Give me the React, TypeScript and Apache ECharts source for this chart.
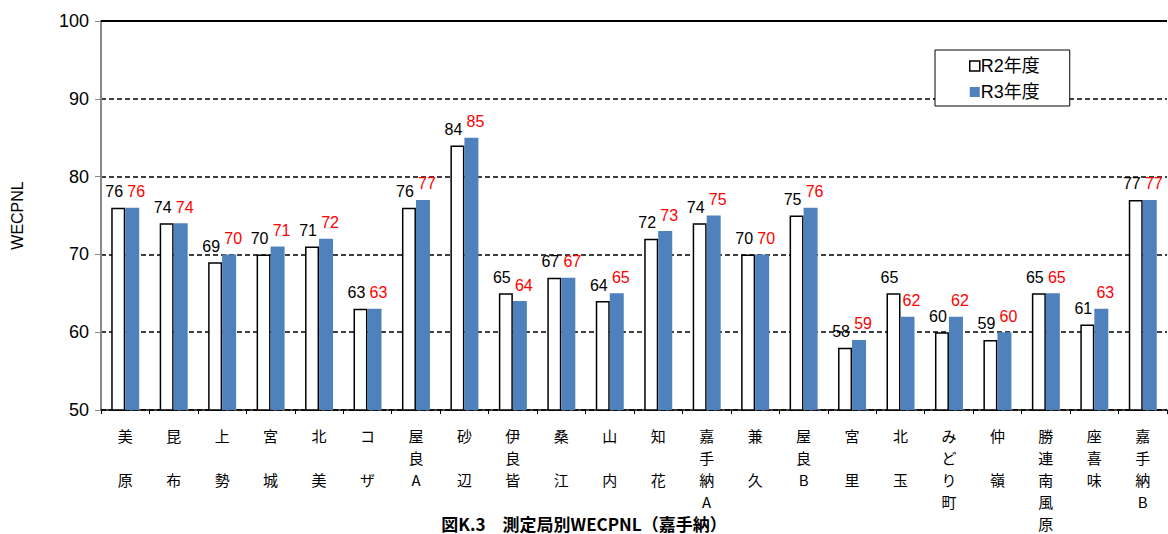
import React, { useEffect, useRef } from "react";
import * as echarts from "echarts";

const categories = [
  "美\n\n原", "昆\n\n布", "上\n\n勢", "宮\n\n城", "北\n\n美", "コ\n\nザ",
  "屋\n良\nA", "砂\n\n辺", "伊\n良\n皆", "桑\n\n江", "山\n\n内", "知\n\n花",
  "嘉\n手\n納\nA", "兼\n\n久", "屋\n良\nB", "宮\n\n里", "北\n\n玉",
  "み\nど\nり\n町", "仲\n\n嶺", "勝\n連\n南\n風\n原", "座\n喜\n味", "嘉\n手\n納\nB",
];
const r2Values = [76, 74, 69, 70, 71, 63, 76, 84, 65, 67, 64, 72, 74, 70, 75, 58, 65, 60, 59, 65, 61, 77];
const r3Values = [76, 74, 70, 71, 72, 63, 77, 85, 64, 67, 65, 73, 75, 70, 76, 59, 62, 62, 60, 65, 63, 77];
const yTicks = { min: 50, max: 100, interval: 10 };
const seriesNames = ["R2年度", "R3年度"];
const titleText = "図K.3　測定局別WECPNL（嘉手納）";
const yName = "WECPNL";

const FONT = "Liberation Sans, Arial, Noto Sans CJK JP, sans-serif";

export default function App() {
  const ref = useRef<HTMLDivElement>(null);
  useEffect(() => {
    if (!ref.current) return;
    const chart = echarts.init(ref.current, null, { renderer: "svg" });
    chart.setOption({
      animation: false,
      backgroundColor: "#fff",
      textStyle: { fontFamily: FONT },
      grid: { left: 101, right: 1, top: 21, bottom: 123, containLabel: false },
      legend: {
        orient: "vertical",
        left: 935,
        top: 50,
        width: 151,
        padding: [7, 30, 5, 34],
        itemGap: 8,
        itemWidth: 10,
        itemHeight: 10,
        borderColor: "#000",
        borderWidth: 1,
        backgroundColor: "#fff",
        textStyle: { fontSize: 18, color: "#000", fontFamily: FONT, padding: [0, 0, 0, -4] },
        data: [
          { name: seriesNames[0], icon: "rect", itemStyle: { color: "#fff", borderColor: "#000", borderWidth: 1.5 } },
          { name: seriesNames[1], icon: "rect" },
        ],
      },
      xAxis: {
        type: "category",
        data: categories,
        axisLine: { lineStyle: { color: "#000", width: 1.5 } },
        axisTick: { show: true, alignWithLabel: false, length: 4, lineStyle: { color: "#000" } },
        axisLabel: {
          interval: 0,
          fontSize: 15,
          lineHeight: 22,
          color: "#000",
          margin: 14,
          fontFamily: "Noto Sans CJK JP, sans-serif",
        },
      },
      yAxis: {
        type: "value",
        min: yTicks.min,
        max: yTicks.max,
        interval: yTicks.interval,
        name: yName,
        nameLocation: "middle",
        nameGap: 76,
        nameRotate: 90,
        nameTextStyle: { fontSize: 16, color: "#000", fontFamily: FONT },
        axisLine: { show: true, lineStyle: { color: "#888", width: 2 } },
        axisTick: { show: true, length: 6, lineStyle: { color: "#888" } },
        axisLabel: { fontSize: 18, color: "#000", margin: 12, fontFamily: FONT },
        splitLine: { show: true, lineStyle: { color: "#000", type: [5, 3], width: 1.5 } },
      },
      series: [
        {
          name: seriesNames[0],
          type: "bar",
          data: r2Values,
          barWidth: 14,
          barGap: "0%",
          itemStyle: { color: "#fff", borderColor: "#000", borderWidth: 1.5 },
          label: {
            show: true,
            position: "top",
            distance: 8,
            offset: [-4, 0],
            fontSize: 16,
            color: "#000",
            fontFamily: FONT,
          },
          markLine: {
            silent: true,
            symbol: "none",
            label: { show: false },
            lineStyle: { color: "#000", type: "solid", width: 2 },
            data: [{ yAxis: 100 }],
          },
        },
        {
          name: seriesNames[1],
          type: "bar",
          data: r3Values,
          barWidth: 14,
          barGap: "0%",
          itemStyle: { color: "#4f81bd" },
          label: {
            show: true,
            position: "top",
            distance: 8,
            offset: [4, 0],
            fontSize: 16,
            color: "#ff0000",
            fontFamily: FONT,
          },
        },
      ],
      graphic: [
        {
          type: "text",
          left: "center",
          top: 514,
          style: {
            text: titleText,
            fontSize: 17,
            lineHeight: 18,
            fontWeight: "bold",
            fill: "#000",
            fontFamily: "Noto Sans CJK JP, sans-serif",
          },
        },
      ],
    });
    return () => chart.dispose();
  }, []);
  return <div ref={ref} style={{ width: 1168, height: 534, position: "absolute", left: 0, top: 0 }} />;
}
